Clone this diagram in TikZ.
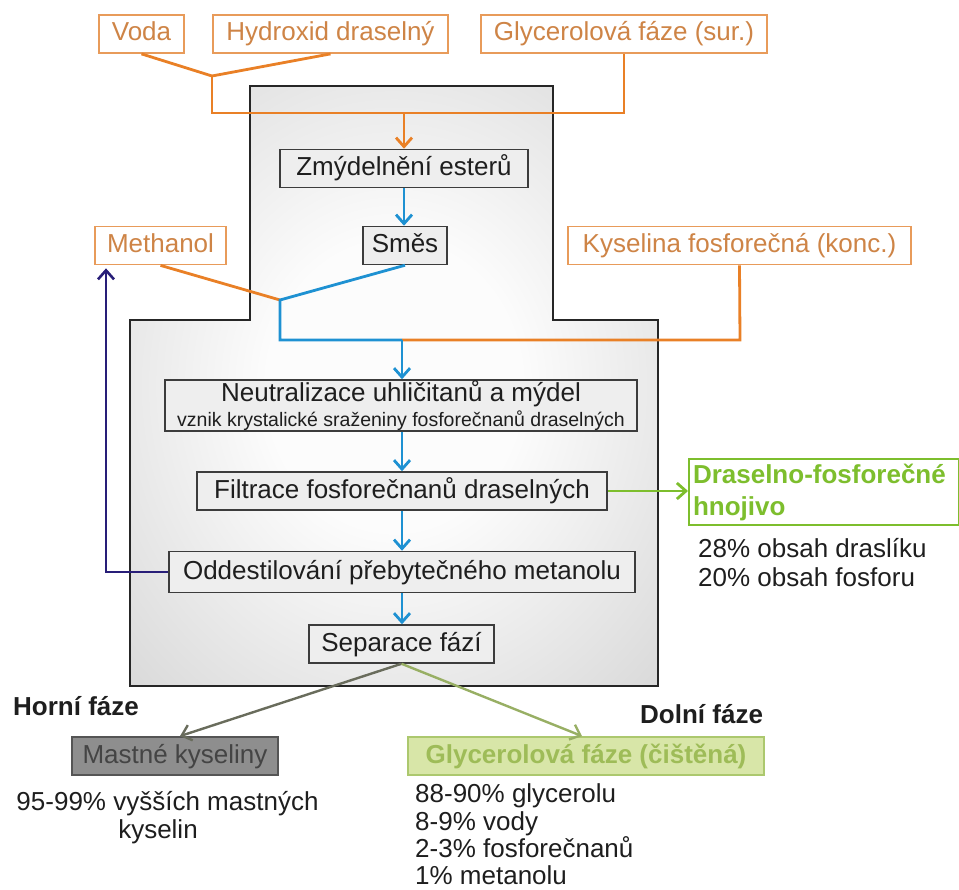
\documentclass[tikz,border=0pt]{standalone}
\usepackage{fontspec}
\setmainfont{Liberation Sans}
\usetikzlibrary{arrows.meta}
\definecolor{orline}{RGB}{233,128,38}
\definecolor{ortext}{RGB}{206,132,70}
\definecolor{orbox}{RGB}{232,155,90}
\definecolor{bluel}{RGB}{30,145,210}
\definecolor{navyl}{RGB}{40,30,120}
\definecolor{greenl}{RGB}{125,190,45}
\definecolor{mastfill}{RGB}{142,142,142}
\definecolor{masttext}{RGB}{68,68,68}
\definecolor{mastdraw}{RGB}{85,85,85}
\definecolor{glfill}{RGB}{216,230,168}
\definecolor{gldraw}{RGB}{172,200,110}
\definecolor{gltext}{RGB}{158,188,88}
\definecolor{arrgray}{RGB}{105,108,92}
\definecolor{arrgreen}{RGB}{152,175,100}
\definecolor{procfill}{RGB}{238,238,238}
\definecolor{procdraw}{RGB}{60,60,60}
\definecolor{shin}{RGB}{252,252,252}
\definecolor{shout}{RGB}{205,205,205}
\definecolor{txt}{RGB}{30,30,30}
\pgfdeclareradialshading{softrad}{\pgfpoint{0bp}{0bp}}{color(0bp)=(shin); color(12bp)=(shin); color(44bp)=(shout); color(50bp)=(shout)}
\begin{document}
\begin{tikzpicture}[x=1pt,y=-1pt,
  font=\fontsize{26}{28}\selectfont,
  inbox/.style={draw=orbox, line width=1.8pt, fill=white, text=ortext, inner sep=0pt,
    minimum height=38pt, text height=19pt, text depth=5pt},
  proc/.style={draw=procdraw, line width=1.5pt, fill=procfill, text=txt, inner sep=0pt,
    minimum height=38pt, text height=19pt, text depth=5pt},
  oline/.style={draw=orline, line width=2.8pt},
  bline/.style={draw=bluel, line width=2.8pt},
  tipb/.style={-{Straight Barb[length=9pt,width=16pt]}},
  plain/.style={inner sep=0pt, text=txt},
]
\useasboundingbox (0,0) rectangle (959,890);

% gray process area
\shade[shading=softrad]
  (250,86) -- (553,86) -- (553,320) -- (658,320) -- (658,686) -- (130,686) -- (130,320) -- (250,320) -- cycle;
\draw[line width=2.6pt, black!85]
  (250,86) -- (553,86) -- (553,320) -- (658,320) -- (658,686) -- (130,686) -- (130,320) -- (250,320) -- cycle;

% input boxes
\node[inbox, minimum width=85pt] (voda) at (141.5,34) {Voda};
\node[inbox, minimum width=235pt] (hydroxid) at (330.5,34) {Hydroxid draselný};
\node[inbox, minimum width=286pt] (glsur) at (624,34) {Glycerolová fáze (sur.)};
\node[inbox, minimum width=131pt] (methanol) at (160.5,245.5) {Methanol};
\node[inbox, minimum width=343pt] (kys) at (739.5,245.5) {Kyselina fosforečná (konc.)};

% process boxes
\node[proc, minimum width=248pt] (zmyd) at (404,168.5) {Zmýdelnění esterů};
\node[proc, minimum width=84pt] (smes) at (405,245.5) {Směs};
\node[proc, minimum width=472pt, minimum height=51pt, text height=, text depth=, align=center,
  font=\fontsize{26}{25}\selectfont] (neut) at (401,405.5)
  {Neutralizace uhličitanů a mýdel\\{\fontsize{19.5}{25}\selectfont vznik krystalické sraženiny fosforečnanů draselných}};
\node[proc, minimum width=410pt] (filt) at (402,491) {Filtrace fosforečnanů draselných};
\node[proc, minimum width=466pt, minimum height=41pt] (odd) at (402,572) {Oddestilování přebytečného metanolu};
\node[proc, minimum width=185pt] (sep) at (401.5,644) {Separace fází};

% outputs
\node[draw=greenl, line width=2pt, fill=white, text=greenl, font=\fontsize{26}{32}\selectfont\bfseries,
  align=left, text width=262pt, inner sep=4pt, minimum height=66pt, anchor=west] (dras) at (688,492)
  {Draselno-fosforečné\\hnojivo};
\node[plain, anchor=base west] (d1) at (698,557) {28\% obsah draslíku};
\node[plain, anchor=base west] (d2) at (698,586) {20\% obsah fosforu};

\node[draw=mastdraw, line width=1.8pt, fill=mastfill, text=masttext, inner sep=0pt,
  minimum width=206pt, minimum height=38pt, text height=19pt, text depth=5pt] (mast) at (175,756) {Mastné kyseliny};
\node[draw=gldraw, line width=1.8pt, fill=glfill, text=gltext, inner sep=0pt, font=\fontsize{26}{28}\selectfont\bfseries,
  minimum width=356pt, minimum height=38pt, text height=19pt, text depth=5pt] (glc) at (586,756) {Glycerolová fáze (čištěná)};

\node[plain, anchor=base west, font=\fontsize{26}{28}\selectfont\bfseries] (horni) at (13,715) {Horní fáze};
\node[plain, anchor=base west, font=\fontsize{26}{28}\selectfont\bfseries] (dolni) at (640,723) {Dolní fáze};

\node[plain, anchor=base] (m1) at (167.5,810) {95-99\% vyšších mastných};
\node[plain, anchor=base] (m2) at (158,838) {kyselin};

\node[plain, anchor=base west] (g1) at (415,802) {88-90\% glycerolu};
\node[plain, anchor=base west] (g2) at (415,830) {8-9\% vody};
\node[plain, anchor=base west] (g3) at (415,857) {2-3\% fosforečnanů};
\node[plain, anchor=base west] (g4) at (415,884) {1\% metanolu};

% connectors: top inputs
\coordinate (j1) at (212,76);
\coordinate (j2) at (212,113);
\coordinate (j3) at (404,113);
\draw[oline] (voda.south) -- (j1);
\draw[oline] (hydroxid.south) -- (j1);
\draw[oline] (j1) -- (j2) -| (glsur.south);
\draw[oline, tipb] (j3) -- (zmyd.north);

\draw[bline, tipb] (zmyd.south) -- (zmyd.south |- smes.north);

% methanol + acid
\coordinate (j4) at (280,300);
\coordinate (j5) at (280,340);
\coordinate (j6) at (402,340);
\coordinate (j7) at (740,340);
\draw[oline] (methanol.south) -- (j4);
\draw[oline] (j6) -- (j7) -- (kys.south);
\draw[bline] (smes.south) -- (j4) -- (j5) -- (j6);
\draw[bline, tipb] (j6) -- (j6 |- neut.north);

\draw[bline, tipb] (neut.south -| filt.north) -- (filt.north);
\draw[bline, tipb] (filt.south) -- (odd.north);
\draw[bline, tipb] (odd.south) -- (odd.south |- sep.north);

% green output
\draw[draw=greenl, line width=2.8pt, tipb] (filt.east) -- (filt.east -| dras.west);

% methanol recycle
\coordinate (r1) at (106,572);
\draw[draw=navyl, line width=2.6pt, tipb, shorten >=3pt] (odd.west) -- (r1) -- (r1 |- methanol.south);

% phase split
\draw[draw=arrgray, line width=2.4pt, tipb] (sep.south) -- ([xshift=5pt]mast.north);
\draw[draw=arrgreen, line width=2.4pt, tipb] (sep.south) -- ([xshift=-4pt]glc.north);
\end{tikzpicture}
\end{document}
